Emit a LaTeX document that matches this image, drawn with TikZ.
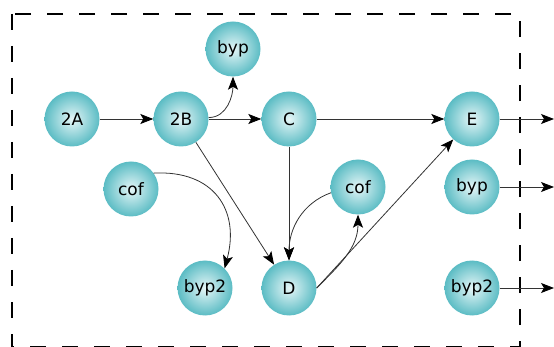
\documentclass[tikz,border=0pt]{standalone}
\usepackage{fontspec}
\setmainfont{DejaVu Sans}
\usetikzlibrary{arrows.meta}

\definecolor{ballrim}{HTML}{5BBCC4}
\definecolor{ballcore}{HTML}{E6F6F7}

\tikzstyle{ball} = [circle, minimum size=55pt, inner sep=0pt, inner color=ballcore, outer color=ballrim, font=\fontsize{17}{20}\selectfont]
\tikzstyle{arrow} = [line width=0.8pt, draw=black!80, -{Stealth[length=13pt,width=10pt,inset=3pt,color=black]}]
\tikzstyle{frame} = [line width=2.5pt, dash pattern=on 16pt off 16pt]

\begin{document}
\begin{tikzpicture}[x=1pt, y=-1pt, node distance=109pt]
\useasboundingbox (0,0) rectangle (554,347);
\draw [frame] (12,14) rectangle (520,347.6);

\node (n2A) [ball] at (72,119) {2A};
\node (n2B) [ball, right of=n2A] {2B};
\node (nC) [ball] at (289,119) {C};
\node (nE) [ball] at (472,119) {E};
\node (bypT) [ball] at (233,49) {byp};
\node (cofL) [ball] at (131,189) {cof};
\node (cofR) [ball] at (358,187) {cof};
\node (bypR) [ball] at (472,187) {byp};
\node (byp2L) [ball] at (205,288) {byp2};
\node (nD) [ball] at (289,288) {D};
\node (byp2R) [ball] at (472,288) {byp2};

\coordinate (outE) at (554,119);
\coordinate (outbyp) at (554,187);
\coordinate (outbyp2) at (554,288);

\draw [arrow] (n2A) -- (n2B);
\draw [arrow] (n2B) -- (nC);
\draw [arrow] (n2B.3) to[out=0,in=-90] (bypT.south);
\draw [arrow] (nC) -- (nE);
\draw [arrow] (nC) -- (nD);
\draw [arrow] (n2B) -- (nD);
\draw [arrow] (cofL.35) to[out=3,in=75,looseness=1.3] (byp2L.45);
\draw [arrow] (cofR.192) to[out=200,in=90] (nD.north);
\draw [arrow] (nD.east) to[out=45,in=-90] (cofR.south);
\draw [arrow] (nD.east) -- (nE);
\draw [arrow] (nE) -- (outE);
\draw [arrow] (bypR) -- (outbyp);
\draw [arrow] (byp2R) -- (outbyp2);
\end{tikzpicture}
\end{document}
